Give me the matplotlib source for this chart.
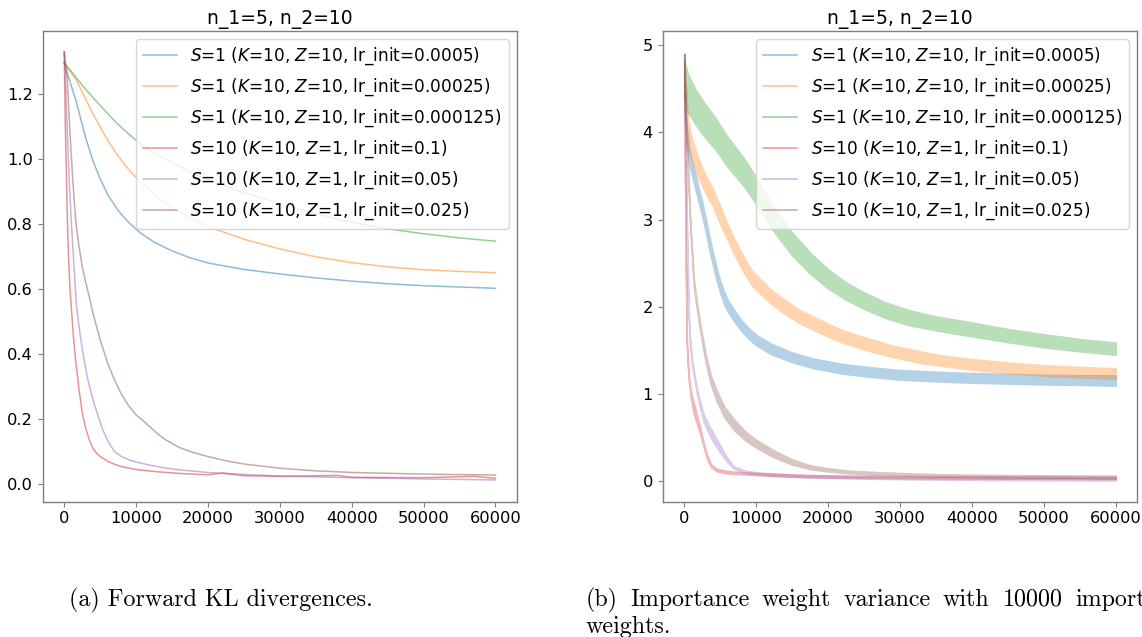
import numpy as np
import matplotlib
matplotlib.use("Agg")
import matplotlib.pyplot as plt
from matplotlib.lines import Line2D

# ---------------- data ----------------
TITLE = "n_1=5, n_2=10"
LABELS = [
    "$S$=1 ($K$=10, $Z$=10, lr_init=0.0005)",
    "$S$=1 ($K$=10, $Z$=10, lr_init=0.00025)",
    "$S$=1 ($K$=10, $Z$=10, lr_init=0.000125)",
    "$S$=10 ($K$=10, $Z$=1, lr_init=0.1)",
    "$S$=10 ($K$=10, $Z$=1, lr_init=0.05)",
    "$S$=10 ($K$=10, $Z$=1, lr_init=0.025)",
]
COLORS = ["#1f77b4", "#ff7f0e", "#2ca02c", "#d62728", "#9467bd", "#8c564b"]
X_TICKS = [0, 10000, 20000, 30000, 40000, 50000, 60000]
CAPTION_A = "(a) Forward KL divergences."
CAPTION_B_WORDS = ["(b)", "Importance", "weight", "variance", "with", "10000", "importance"]
CAPTION_B_LINE2 = "weights."

# panel (a): forward KL
a_blue_x = [0, 500, 1000, 1500, 2000, 3000, 4000, 5000, 6000, 7500, 9000, 10500, 12500, 15000, 17500, 20000, 25000, 30000, 35000, 40000, 45000, 50000, 55000, 60000]
a_blue_y = [1.297, 1.26, 1.225, 1.19, 1.15, 1.065, 0.995, 0.94, 0.893, 0.842, 0.805, 0.775, 0.745, 0.718, 0.697, 0.681, 0.661, 0.647, 0.635, 0.625, 0.617, 0.611, 0.607, 0.603]
a_orange_x = [0, 500, 1000, 1500, 2000, 3000, 4000, 5000, 6000, 7500, 9000, 10500, 12500, 15000, 17500, 20000, 25000, 30000, 35000, 40000, 45000, 50000, 55000, 60000]
a_orange_y = [1.297, 1.28, 1.265, 1.25, 1.23, 1.185, 1.14, 1.10, 1.06, 1.01, 0.968, 0.932, 0.893, 0.852, 0.82, 0.793, 0.754, 0.724, 0.700, 0.682, 0.669, 0.660, 0.655, 0.651]
a_green_x = [0, 1000, 2000, 3000, 4000, 5000, 6500, 8000, 10000, 12500, 15000, 17500, 20000, 25000, 30000, 35000, 40000, 45000, 50000, 55000, 60000]
a_green_y = [1.297, 1.27, 1.242, 1.215, 1.19, 1.166, 1.13, 1.097, 1.058, 1.02, 0.99, 0.961, 0.936, 0.897, 0.864, 0.832, 0.806, 0.786, 0.771, 0.758, 0.748]
a_red_x = [0, 150, 300, 450, 600, 800, 1000, 1250, 1500, 2000, 2500, 3000, 3500, 4000, 4500, 5000, 6000, 7000, 8000, 10000, 13000, 16000, 20000, 22000, 25000, 30000, 38000, 40000, 50000, 57000, 60000]
a_red_y = [1.33, 1.10, 0.95, 0.80, 0.70, 0.60, 0.54, 0.46, 0.40, 0.30, 0.22, 0.17, 0.135, 0.11, 0.095, 0.085, 0.071, 0.061, 0.054, 0.045, 0.038, 0.033, 0.029, 0.034, 0.026, 0.024, 0.027, 0.021, 0.020, 0.024, 0.018]
a_purple_x = [0, 200, 400, 700, 1000, 1300, 1700, 2200, 2700, 3300, 4000, 4700, 5400, 6200, 7000, 8000, 9000, 10000, 12000, 14000, 16000, 20000, 25000, 30000, 40000, 50000, 60000]
a_purple_y = [1.33, 1.22, 1.10, 0.93, 0.80, 0.69, 0.55, 0.46, 0.39, 0.32, 0.26, 0.21, 0.165, 0.128, 0.10, 0.085, 0.075, 0.068, 0.058, 0.050, 0.044, 0.036, 0.030, 0.025, 0.020, 0.016, 0.013]
a_brown_x = [0, 400, 800, 1200, 1600, 2000, 2500, 3000, 3500, 4000, 5000, 6000, 7000, 8000, 9000, 10000, 11000, 12000, 13000, 14000, 16000, 18000, 20000, 22500, 25000, 30000, 35000, 40000, 50000, 60000]
a_brown_y = [1.33, 1.25, 1.08, 0.93, 0.81, 0.74, 0.67, 0.62, 0.575, 0.525, 0.445, 0.375, 0.32, 0.275, 0.24, 0.213, 0.195, 0.175, 0.155, 0.138, 0.113, 0.097, 0.085, 0.072, 0.062, 0.049, 0.041, 0.036, 0.031, 0.028]

# panel (b): importance weight variance (centre of noisy band and its half-width)
b_blue_x = [0, 300, 700, 1200, 2000, 2500, 3000, 3500, 4000, 4500, 5000, 5500, 6000, 7000, 8000, 9000, 10000, 12000, 15000, 18000, 22000, 26000, 30000, 35000, 40000, 45000, 50000, 55000, 60000]
b_blue_y = [4.5, 4.0, 3.72, 3.55, 3.28, 3.12, 2.93, 2.73, 2.54, 2.37, 2.23, 2.11, 2.02, 1.89, 1.78, 1.69, 1.62, 1.52, 1.42, 1.35, 1.29, 1.25, 1.22, 1.20, 1.185, 1.175, 1.165, 1.16, 1.155]
b_blue_w = [0.2, 0.12, 0.09, 0.08, 0.08, 0.08, 0.075, 0.075, 0.07, 0.07, 0.07, 0.07, 0.065, 0.065, 0.06, 0.06, 0.06, 0.06, 0.055, 0.055, 0.055, 0.055, 0.055, 0.055, 0.055, 0.055, 0.055, 0.055, 0.06]
b_orange_x = [0, 500, 1000, 2000, 3000, 4000, 5000, 6000, 7000, 8500, 9500, 12000, 14000, 16000, 19000, 22000, 25000, 29000, 33000, 36000, 40000, 45000, 50000, 55000, 60000]
b_orange_y = [4.6, 4.0, 3.82, 3.58, 3.40, 3.25, 3.05, 2.86, 2.68, 2.45, 2.32, 2.12, 2.0, 1.89, 1.77, 1.66, 1.58, 1.49, 1.42, 1.38, 1.34, 1.30, 1.27, 1.25, 1.235]
b_orange_w = [0.25, 0.15, 0.12, 0.11, 0.1, 0.1, 0.1, 0.09, 0.09, 0.085, 0.085, 0.08, 0.08, 0.075, 0.075, 0.07, 0.07, 0.065, 0.065, 0.06, 0.06, 0.06, 0.06, 0.06, 0.06]
b_green_x = [0, 500, 1500, 3000, 4200, 6000, 8500, 10000, 12300, 15000, 17500, 20000, 22500, 25000, 28000, 31500, 35000, 40000, 45000, 50000, 55000, 60000]
b_green_y = [4.6, 4.45, 4.3, 4.12, 4.0, 3.78, 3.52, 3.33, 3.02, 2.72, 2.50, 2.32, 2.18, 2.07, 1.96, 1.87, 1.81, 1.74, 1.67, 1.61, 1.56, 1.52]
b_green_w = [0.22, 0.22, 0.2, 0.19, 0.18, 0.17, 0.16, 0.15, 0.14, 0.13, 0.12, 0.11, 0.1, 0.095, 0.09, 0.085, 0.08, 0.08, 0.075, 0.075, 0.07, 0.07]
b_red_x = [0, 100, 200, 350, 600, 900, 1300, 1800, 2300, 2800, 3300, 3800, 4500, 5500, 7000, 10000, 13000, 17000, 25000, 35000, 45000, 60000]
b_red_y = [4.85, 3.6, 2.6, 1.6, 1.2, 1.0, 0.84, 0.70, 0.55, 0.38, 0.25, 0.17, 0.13, 0.11, 0.095, 0.083, 0.07, 0.058, 0.05, 0.045, 0.042, 0.038]
b_red_w = [0.05, 0.05, 0.05, 0.04, 0.03, 0.03, 0.06, 0.05, 0.03, 0.02, 0.02, 0.015, 0.015, 0.015, 0.012, 0.012, 0.012, 0.012, 0.012, 0.012, 0.012, 0.012]
b_purple_x = [0, 150, 300, 450, 600, 800, 1100, 1800, 2700, 3500, 4200, 5000, 5600, 6300, 7000, 8500, 10000, 12300, 16000, 20000, 30000, 40000, 50000, 60000]
b_purple_y = [4.85, 4.0, 3.2, 2.5, 1.92, 1.6, 1.35, 1.01, 0.72, 0.58, 0.48, 0.37, 0.29, 0.21, 0.15, 0.11, 0.09, 0.076, 0.062, 0.05, 0.035, 0.027, 0.022, 0.02]
b_purple_w = [0.05, 0.05, 0.04, 0.04, 0.04, 0.03, 0.03, 0.03, 0.04, 0.05, 0.05, 0.04, 0.03, 0.02, 0.015, 0.012, 0.012, 0.012, 0.012, 0.012, 0.012, 0.012, 0.012, 0.012]
b_brown_x = [0, 200, 500, 800, 1300, 1800, 2300, 3000, 3700, 4500, 5600, 7000, 8500, 10000, 12300, 15000, 17500, 20000, 23000, 27000, 32000, 36000, 45000, 60000]
b_brown_y = [4.85, 4.2, 3.6, 3.0, 2.3, 1.98, 1.72, 1.40, 1.16, 0.98, 0.79, 0.64, 0.52, 0.43, 0.32, 0.22, 0.16, 0.13, 0.105, 0.088, 0.075, 0.066, 0.057, 0.05]
b_brown_w = [0.05, 0.05, 0.04, 0.04, 0.04, 0.04, 0.04, 0.045, 0.05, 0.06, 0.06, 0.06, 0.05, 0.045, 0.04, 0.03, 0.022, 0.018, 0.015, 0.015, 0.013, 0.013, 0.013, 0.013]

A_SERIES = [(a_blue_x, a_blue_y), (a_orange_x, a_orange_y), (a_green_x, a_green_y),
            (a_red_x, a_red_y), (a_purple_x, a_purple_y), (a_brown_x, a_brown_y)]
B_SERIES = [(b_blue_x, b_blue_y, b_blue_w), (b_orange_x, b_orange_y, b_orange_w),
            (b_green_x, b_green_y, b_green_w), (b_red_x, b_red_y, b_red_w),
            (b_purple_x, b_purple_y, b_purple_w), (b_brown_x, b_brown_y, b_brown_w)]

# ---------------- figure ----------------
W, H = 1142, 637
fig = plt.figure(figsize=(W / 100, H / 100), dpi=100)
plt.rcParams["font.family"] = ["DejaVu Sans"]

FS = 11.7
LEG_FS = 12.2
SPINE = "#7f7f7f"
BAND_ALPHA = 0.58


def style(ax):
    for s in ax.spines.values():
        s.set_color(SPINE)
        s.set_linewidth(1.0)
    ax.tick_params(colors=SPINE, labelcolor="black", labelsize=FS, length=3.5, width=0.8)
    ax.set_xticks(X_TICKS)
    ax.set_xlim(-3000, 63000)
    ax.set_title(TITLE, fontsize=13.5, pad=5)


def band_alpha(img, dpi):
    # render the band (face + outline) opaque, then make the whole union translucent
    out = img.copy()
    out[..., 3] *= BAND_ALPHA
    return out, 0, 0


ax1 = fig.add_axes([42.7 / W, 1 - 501.7 / H, 474.3 / W, 471 / H])
ax2 = fig.add_axes([662.7 / W, 1 - 501.7 / H, 474.6 / W, 471 / H])

for (x, y), c, lab in zip(A_SERIES, COLORS, LABELS):
    ax1.plot(x, y, color=c, alpha=0.5, lw=1.1, label=lab)
style(ax1)
ax1.set_ylim(-0.054, 1.396)
ax1.set_yticks([0.0, 0.2, 0.4, 0.6, 0.8, 1.0, 1.2])
ax1.legend(loc="upper right", fontsize=LEG_FS, borderaxespad=0.5, labelspacing=0.55)

handles = []
for (x, y, w), c, lab in zip(B_SERIES, COLORS, LABELS):
    x = np.asarray(x, float)
    y = np.asarray(y, float)
    w = np.asarray(w, float)
    coll = ax2.fill_between(x, y - w, y + w, facecolor=c, edgecolor=c, lw=1.2)
    coll.set_agg_filter(band_alpha)
    handles.append(Line2D([], [], color=c, alpha=0.5, lw=1.1, label=lab))
style(ax2)
ax2.set_ylim(-0.235, 5.166)
ax2.set_yticks([0, 1, 2, 3, 4, 5])
ax2.legend(handles=handles, loc="upper right", fontsize=LEG_FS, borderaxespad=0.5, labelspacing=0.55)

# captions (serif, LaTeX-like)
CAP_FS = 17.3
fig.text(221 / W, 1 - 606 / H, CAPTION_A, ha="center", va="baseline",
         fontsize=CAP_FS, family="cmr10")
word_x = [586, 630.5, 762, 843.5, 943, 1002.5, 1075]
for wx, wd in zip(word_x, CAPTION_B_WORDS):
    fig.text(wx / W, 1 - 606 / H, wd, ha="left", va="baseline",
             fontsize=CAP_FS, family="cmr10")
fig.text(586 / W, 1 - 633 / H, CAPTION_B_LINE2, ha="left", va="baseline",
         fontsize=CAP_FS, family="cmr10")

fig.savefig("out.png", dpi=100)
